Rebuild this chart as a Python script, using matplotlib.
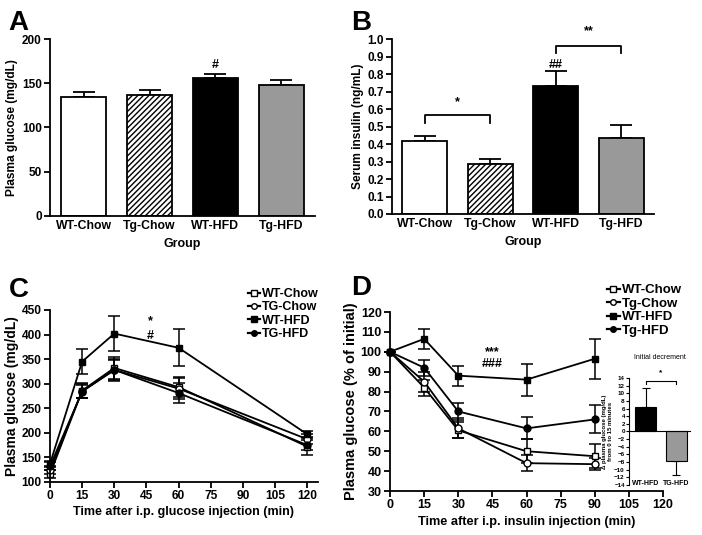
import numpy as np
import matplotlib.pyplot as plt
from matplotlib.lines import Line2D

plt.rcParams['font.family'] = ['Liberation Sans', 'DejaVu Sans']
plt.rcParams['font.weight'] = 'bold'
plt.rcParams['axes.labelweight'] = 'bold'
plt.rcParams['hatch.linewidth'] = 1.0

groups = ['WT-Chow', 'Tg-Chow', 'WT-HFD', 'Tg-HFD']

# panel A
glucose_mean = [134, 136.5, 155.5, 148]
glucose_err = [6.5, 5.5, 5.5, 6]

# panel B
insulin_mean = [0.416, 0.288, 0.731, 0.433]
insulin_err = [0.032, 0.028, 0.088, 0.074]

# panel C - GTT
gtt_time = [0, 15, 30, 60, 120]
gtt_wt_chow = [116, 286, 332, 293, 172]
gtt_wt_chow_err = [8, 16, 22, 20, 18]
gtt_tg_chow = [125, 285, 328, 290, 187]
gtt_tg_chow_err = [8, 14, 20, 22, 10]
gtt_wt_hfd = [137, 345, 402, 373, 197]
gtt_wt_hfd_err = [6, 25, 35, 38, 6]
gtt_tg_hfd = [132, 284, 328, 281, 175]
gtt_tg_hfd_err = [8, 14, 22, 20, 10]

# panel D - ITT
itt_time = [0, 15, 30, 60, 90]
itt_wt_chow = [100, 82, 60.5, 50, 47.5]
itt_wt_chow_err = [0, 4, 4, 6, 6]
itt_tg_chow = [100, 85, 61.5, 44, 43.5]
itt_tg_chow_err = [0, 5, 5, 4, 3]
itt_wt_hfd = [100, 106.5, 88, 86, 96.5]
itt_wt_hfd_err = [0, 5, 5, 8, 10]
itt_tg_hfd = [100, 92, 70, 61.5, 66]
itt_tg_hfd_err = [0, 4, 4.5, 5.5, 7]

# inset
dec_groups = ['WT-HFD', 'TG-HFD']
dec_mean = [6.3, -7.7]
dec_err = [5.1, 3.6]

bar_colors = ['white', 'white', 'black', '#999999']
bar_hatch = [None, '//////', None, None]

fig = plt.figure(figsize=(7.02, 5.35), dpi=100)


def style(ax, fs):
    ax.spines['top'].set_visible(False)
    ax.spines['right'].set_visible(False)
    ax.spines['left'].set_linewidth(1.3)
    ax.spines['bottom'].set_linewidth(1.3)
    ax.tick_params(width=1.3, length=4, labelsize=fs, pad=2)


def bars(ax, means, errs):
    x = np.arange(len(groups))
    for i in range(len(groups)):
        ax.bar(x[i], means[i], width=0.68, color=bar_colors[i], edgecolor='black',
               linewidth=1.3, hatch=bar_hatch[i], zorder=2)
        ax.errorbar(x[i], means[i], yerr=[[0], [errs[i]]], color='black', capsize=8,
                    capthick=1.3, elinewidth=1.3, zorder=1)
    ax.set_xticks(x)
    ax.set_xticklabels(groups)
    ax.set_xlim(-0.51, 3.51)
    ax.set_xlabel('Group', fontsize=9, labelpad=4)
    style(ax, 8.5)
    ax.tick_params(axis='x', length=0, labelsize=8.8, pad=3)


axA = fig.add_axes([0.0712, 0.5963, 0.3775, 0.3308])
bars(axA, glucose_mean, glucose_err)
axA.set_ylim(0, 200)
axA.set_yticks([0, 50, 100, 150, 200])
axA.set_ylabel('Plasma glucose (mg/dL)', fontsize=8.6, labelpad=3)
axA.text(2, glucose_mean[2] + glucose_err[2] + 6, '#', ha='center', fontsize=9)

axB = fig.add_axes([0.5584, 0.6, 0.3732, 0.327])
bars(axB, insulin_mean, insulin_err)
axB.set_xlim(-0.5, 3.5)
axB.set_ylim(0, 1.0)
axB.set_yticks(np.arange(0, 1.01, 0.1))
axB.set_yticklabels(['%.1f' % v for v in np.arange(0, 1.01, 0.1)])
axB.set_ylabel('Serum insulin (ng/mL)', fontsize=8.6, labelpad=2)
axB.plot([0, 0, 1, 1], [0.52, 0.565, 0.565, 0.52], color='black', lw=1.3)
axB.text(0.5, 0.62, '*', ha='center', fontsize=9)
axB.plot([2, 2, 3, 3], [0.92, 0.962, 0.962, 0.92], color='black', lw=1.3, clip_on=False)
axB.text(2.5, 1.01, '**', ha='center', fontsize=9, va='bottom')
axB.text(2, 0.835, '##', ha='center', fontsize=9)


def lines(ax, t, series, fs):
    handles = []
    for y, err, mk, fc, lab in series:
        ax.errorbar(t, y, yerr=err, color='black', marker=mk, markerfacecolor=fc,
                    markeredgecolor='black', markersize=5, lw=1.3, capsize=4.5,
                    capthick=1.1, elinewidth=1.1, clip_on=False)
        handles.append(Line2D([], [], color='black', lw=1.6, marker=mk, markersize=4,
                              markerfacecolor=fc, markeredgecolor='black', label=lab))
    style(ax, fs)
    return handles


axC = fig.add_axes([0.0712, 0.0991, 0.3818, 0.3215])
hC = lines(axC, gtt_time, [
    (gtt_wt_chow, gtt_wt_chow_err, 's', 'white', 'WT-Chow'),
    (gtt_tg_chow, gtt_tg_chow_err, 'o', 'white', 'TG-Chow'),
    (gtt_wt_hfd, gtt_wt_hfd_err, 's', 'black', 'WT-HFD'),
    (gtt_tg_hfd, gtt_tg_hfd_err, 'o', 'black', 'TG-HFD'),
], 8.6)
axC.set_xlim(0, 125)
axC.set_ylim(100, 450)
axC.set_xticks(np.arange(0, 121, 15))
axC.set_yticks(np.arange(100, 451, 50))
axC.set_xlabel('Time after i.p. glucose injection (min)', fontsize=9, labelpad=3)
axC.set_ylabel('Plasma glucose (mg/dL)', fontsize=10, labelpad=2)
axC.text(47, 422, '*', ha='center', fontsize=9)
axC.text(47, 390, '#', ha='center', fontsize=9)
axC.legend(handles=hC, loc='upper left', bbox_to_anchor=(0.71, 1.17), frameon=False, fontsize=9,
           handlelength=1.0, handletextpad=0.15, borderpad=0.1, labelspacing=0.1)

axD = fig.add_axes([0.5556, 0.0822, 0.3889, 0.3346])
hD = lines(axD, itt_time, [
    (itt_wt_chow, itt_wt_chow_err, 's', 'white', 'WT-Chow'),
    (itt_tg_chow, itt_tg_chow_err, 'o', 'white', 'Tg-Chow'),
    (itt_wt_hfd, itt_wt_hfd_err, 's', 'black', 'WT-HFD'),
    (itt_tg_hfd, itt_tg_hfd_err, 'o', 'black', 'Tg-HFD'),
], 9)
axD.set_xlim(0, 120)
axD.set_ylim(30, 120)
axD.set_xticks(np.arange(0, 121, 15))
axD.set_yticks(np.arange(30, 121, 10))
axD.set_xlabel('Time after i.p. insulin injection (min)', fontsize=9.2, labelpad=3)
axD.set_ylabel('Plasma glucose (% of initial)', fontsize=10.5, labelpad=2)
axD.text(45, 98.5, '***', ha='center', fontsize=9)
axD.text(45, 92.5, '###', ha='center', fontsize=9)
axD.legend(handles=hD, loc='upper left', bbox_to_anchor=(0.765, 1.2), frameon=False, fontsize=9.5,
           handlelength=1.0, handletextpad=0.15, borderpad=0.1, labelspacing=0.1)

axI = fig.add_axes([0.896, 0.0935, 0.0869, 0.2])
xi = np.arange(len(dec_groups))
axI.bar(xi, dec_mean, width=0.68, color=['black', '#999999'], edgecolor='black', linewidth=0.8, zorder=2)
for i in range(len(dec_groups)):
    up = [[0], [dec_err[i]]] if dec_mean[i] > 0 else [[dec_err[i]], [0]]
    axI.errorbar(xi[i], dec_mean[i], yerr=up, color='black', capsize=3, capthick=0.8, elinewidth=0.8, zorder=1)
axI.set_ylim(-14, 14)
axI.set_xlim(-0.55, 1.45)
axI.set_yticks(np.arange(-14, 15, 2))
axI.set_xticks([])
axI.spines['top'].set_visible(False)
axI.spines['right'].set_visible(False)
axI.spines['bottom'].set_position(('data', 0))
axI.spines['left'].set_linewidth(0.8)
axI.spines['bottom'].set_linewidth(0.8)
axI.tick_params(axis='y', labelsize=4.5, width=0.8, length=2, pad=1)
for i, g in enumerate(dec_groups):
    axI.text(xi[i], -13.5, g, ha='center', va='center', fontsize=5)
axI.set_ylabel('Δ plasma glucose (mg/dL)\nfrom 0 to 15 minutes', fontsize=4.3, labelpad=1, linespacing=1.1)
axI.plot([0, 0, 1, 1], [12.5, 13.2, 13.2, 12.5], color='black', lw=0.8, clip_on=False)
axI.text(0.5, 15, '*', ha='center', fontsize=6)
axI.set_title('Initial decrement', fontsize=5, pad=14)

for lbl, x, y in [('A', 0.012, 0.944), ('B', 0.5, 0.944), ('C', 0.012, 0.445), ('D', 0.5, 0.449)]:
    fig.text(x, y, lbl, fontsize=20, fontweight='bold', va='baseline')

fig.savefig('out.png', dpi=100)
